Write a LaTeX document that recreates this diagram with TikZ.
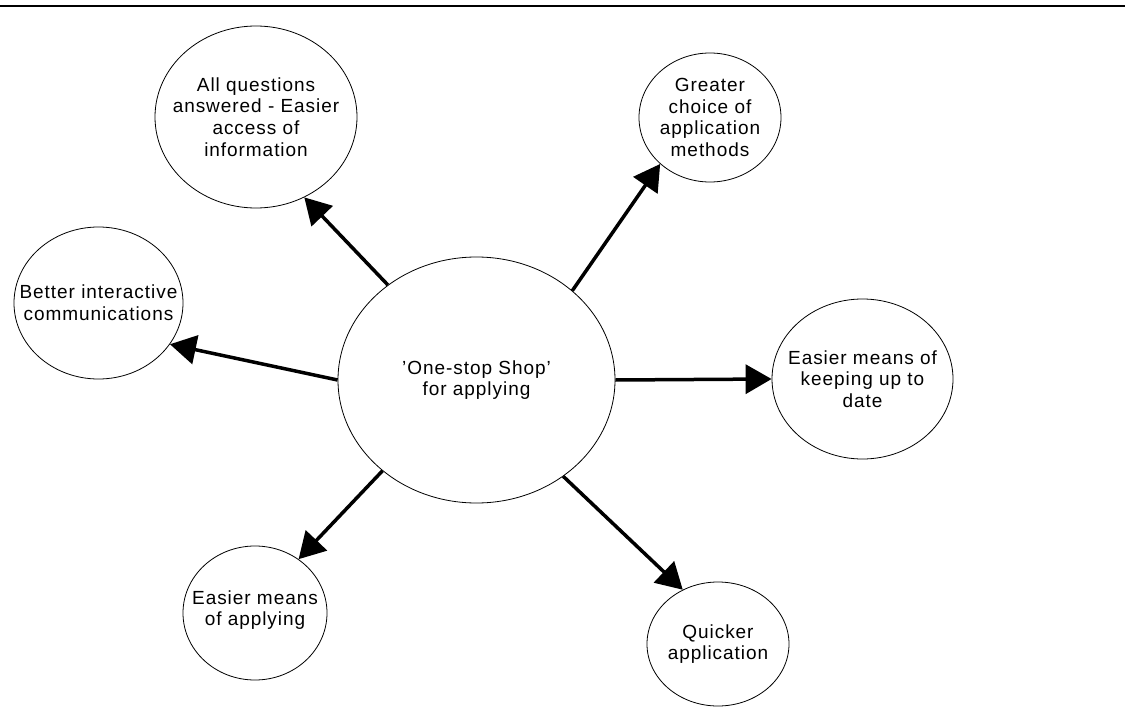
\documentclass[tikz,border=0pt]{standalone}
\usepackage{fontspec}
\setmainfont[LetterSpace=5]{Liberation Sans}
\usetikzlibrary{shapes.geometric,arrows.meta}
\begin{document}
\begin{tikzpicture}[x=1pt,y=-1pt,
  bubble/.style={draw,ellipse,line width=0.8pt,inner sep=0pt},
  txt/.style={align=center,inner sep=0pt,font=\fontsize{19}{21.7}\selectfont},
  link/.style={line width=3.5pt,-{Triangle[length=26pt,width=29pt]}}]
\useasboundingbox (0,0) rectangle (1125,709);
\draw[line width=2.5pt] (0,6) coordinate (l1) -- (1125,6) coordinate (l2);
\node[bubble,minimum width=277pt,minimum height=246pt] (c) at (476.5,380) {};
\node[txt] (ct) at (c) {'One-stop Shop'\\for applying};
\node[bubble,minimum width=202pt,minimum height=182pt] (q) at (256,117) {};
\node[txt] (qt) at (q) {All questions\\answered - Easier\\access of\\information};
\node[bubble,minimum width=142pt,minimum height=129pt] (g) at (710,117.5) {};
\node[txt] (gt) at (g) {Greater\\choice of\\application\\methods};
\node[bubble,minimum width=169pt,minimum height=152pt] (b) at (98.5,303) {};
\node[txt] (bt) at (b) {Better interactive\\communications};
\node[bubble,minimum width=181pt,minimum height=160pt] (k) at (862.5,379) {};
\node[txt] (kt) at (k) {Easier means of\\keeping up to\\date};
\node[bubble,minimum width=144pt,minimum height=134pt] (a) at (255,613) {};
\node[txt] (at) at ([yshift=3pt]a.center) {Easier means\\of applying};
\node[bubble,minimum width=142pt,minimum height=124pt] (qa) at (718,644) {};
\node[txt] (qat) at (qa) {Quicker\\application};
\draw[link] (c.133.9) -- (q.-59.4);
\draw[link] (c.43) -- (g.-137.1);
\draw[link] (c.180) -- (b.-30.4);
\draw[link] (c.0) -- (k.180);
\draw[link] (c.-136.7) -- (a.51.3);
\draw[link] (c.-48.3) -- (qa.123.7);
\end{tikzpicture}
\end{document}
